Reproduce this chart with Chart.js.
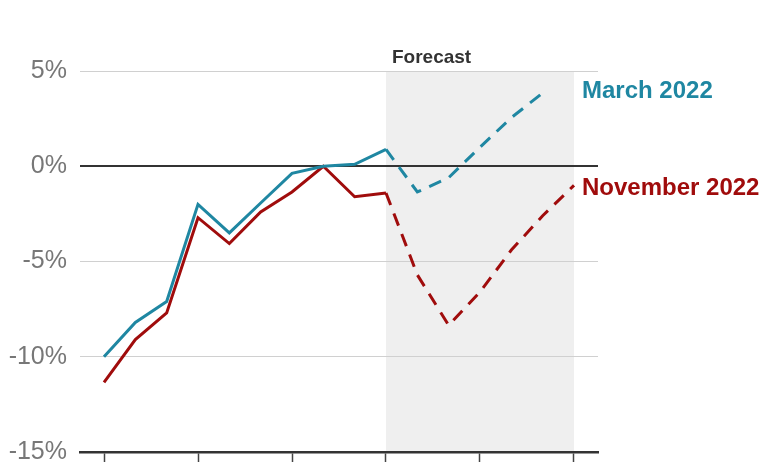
<!DOCTYPE html>
<html>
<head>
<meta charset="utf-8">
<script src="https://cdn.jsdelivr.net/npm/chart.js@4/dist/chart.umd.min.js"></script>
<style>
    html, body { margin: 0; padding: 0; background: #fff; }
    #chart { display: block; }
</style>
</head>
<body>
<canvas id="chart" width="780" height="470"></canvas>
<script>
// ── Dades ────────────────────────────────────────────────────

const periods      = [0, 1, 2, 3, 4, 5, 6, 7, 8, 9, 10, 11, 12, 13, 14, 15];
const march2022    = [-10.0, -8.2, -7.1, -2.0, -3.5, -1.93, -0.37, 0.0, 0.1, 0.89, -1.35, -0.6, 1.0, 2.55, 3.85];
const november2022 = [-11.35, -9.1, -7.7, -2.7, -4.06, -2.4, -1.35, 0.0, -1.6, -1.4, -5.7, -8.35, -6.6, -4.4, -2.6, -1.0];
const yTicks       = [-15, -10, -5, 0, 5];
const forecastFrom = 9;
const forecastTo   = 15;

const colorMarch = '#1f87a2';
const colorNov   = '#a00c0c';
const fontFamily = '"Liberation Sans", Arial, Helvetica, sans-serif';

const toPoints = vals => vals.map((v, i) => ({ x: periods[i], y: v }));

// ── Ombrejat de previsió + etiquetes ─────────────────────────

const forecastPlugin = {
    id: 'forecast',
    beforeDraw(chart) {
        const { ctx, chartArea, scales } = chart;
        const x0 = scales.x.getPixelForValue(forecastFrom);
        const x1 = scales.x.getPixelForValue(forecastTo);
        ctx.save();
        ctx.fillStyle = '#efefef';
        ctx.fillRect(x0, chartArea.top, x1 - x0, chartArea.bottom - chartArea.top);
        ctx.fillStyle = '#333';
        ctx.font = `bold 19px ${fontFamily}`;
        ctx.textAlign = 'left';
        ctx.textBaseline = 'alphabetic';
        ctx.fillText('Forecast', x0 + 6, chartArea.top - 8);
        ctx.restore();
    },
    afterDatasetsDraw(chart) {
        const { ctx, scales } = chart;
        const x = scales.x.getPixelForValue(forecastTo) + 8;
        ctx.save();
        ctx.font = `bold 24px ${fontFamily}`;
        ctx.textAlign = 'left';
        ctx.textBaseline = 'middle';
        ctx.fillStyle = colorMarch;
        ctx.fillText('March 2022', x, scales.y.getPixelForValue(3.95));
        ctx.fillStyle = colorNov;
        ctx.fillText('November 2022', x, scales.y.getPixelForValue(-1.15));
        ctx.restore();
    },
};

const dashed = ctx => ctx.p0.parsed.x >= forecastFrom ? [13, 9] : undefined;

new Chart(document.getElementById('chart'), {
    type: 'line',
    data: {
        datasets: [
            {
                label: 'March 2022',
                data: toPoints(march2022),
                borderColor: colorMarch,
                borderWidth: 3,
                pointRadius: 0,
                tension: 0,
                borderJoinStyle: 'miter',
                segment: { borderDash: dashed },
            },
            {
                label: 'November 2022',
                data: toPoints(november2022),
                borderColor: colorNov,
                borderWidth: 3,
                pointRadius: 0,
                tension: 0,
                borderJoinStyle: 'miter',
                segment: { borderDash: dashed },
            },
        ],
    },
    options: {
        responsive: false,
        animation: false,
        devicePixelRatio: 1,
        layout: { padding: { left: 0, right: 182, top: 71, bottom: 0 } },
        plugins: {
            legend: { display: false },
            tooltip: { enabled: false },
        },
        scales: {
            x: {
                type: 'linear',
                min: -0.766,
                max: 15.766,
                afterFit: scale => {
                    scale.height = 18;
                    scale.paddingLeft = 0;
                    scale.paddingRight = 0;
                },
                ticks: {
                    display: false,
                    stepSize: 3,
                    includeBounds: false,
                },
                grid: {
                    drawOnChartArea: false,
                    drawTicks: true,
                    tickLength: 10,
                    tickColor: '#444',
                    tickWidth: 1.5,
                },
                border: { display: true, color: '#333', width: 2.5 },
            },
            y: {
                min: yTicks[0],
                max: yTicks[yTicks.length - 1],
                afterFit: scale => {
                    scale.width = 80;
                    scale.paddingTop = 0;
                    scale.paddingBottom = 0;
                },
                afterBuildTicks: scale => { scale.ticks = yTicks.map(v => ({ value: v })); },
                ticks: {
                    padding: 13,
                    color: '#777',
                    font: { family: fontFamily, size: 25 },
                    callback: v => v + '%',
                },
                grid: {
                    drawTicks: false,
                    color: ctx => ctx.tick.value === 0 ? '#333' : (ctx.tick.value === yTicks[0] ? 'rgba(0,0,0,0)' : '#d0d0d0'),
                    lineWidth: ctx => ctx.tick.value === 0 ? 2 : 1,
                },
                border: { display: false },
            },
        },
    },
    plugins: [forecastPlugin],
});
</script>
</body>
</html>
